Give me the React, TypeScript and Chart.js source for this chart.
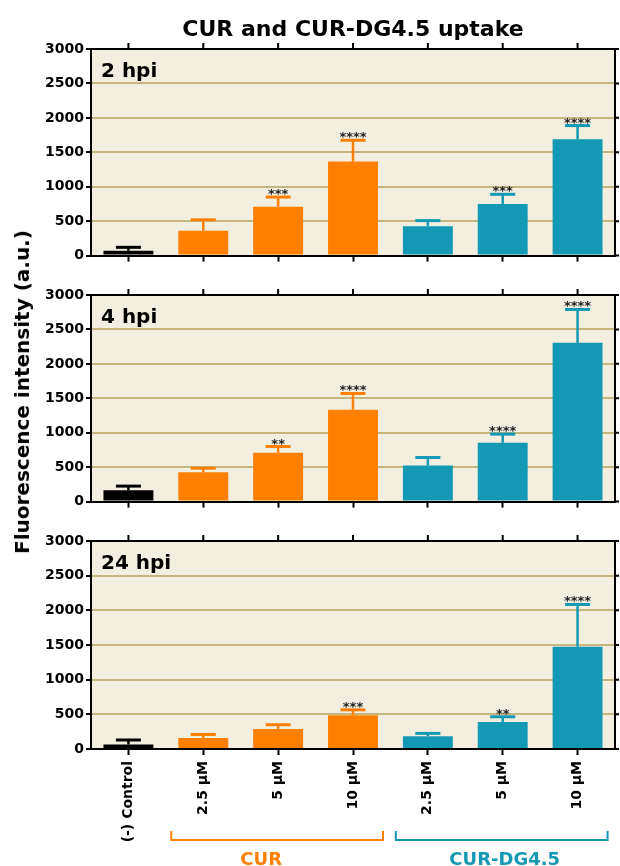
import React, { useEffect, useRef } from 'react';
import { Chart, registerables } from 'chart.js';
Chart.register(...registerables);

// ---------- data ----------
const categories = ['(-) Control', '2.5 µM', '5 µM', '10 µM', '2.5 µM', '5 µM', '10 µM'];
const barColors = ['#000000', '#ff8000', '#ff8000', '#ff8000', '#1399b4', '#1399b4', '#1399b4'];

const mean2h = [70, 360, 710, 1365, 428, 750, 1688];
const sd2h = [50, 160, 140, 310, 80, 140, 200];
const stars2h = ['', '', '***', '****', '', '***', '****'];

const mean4h = [165, 425, 710, 1335, 525, 855, 2305];
const sd4h = [60, 60, 90, 235, 115, 125, 485];
const stars4h = ['', '', '**', '****', '', '****', '****'];

const mean24h = [65, 160, 290, 485, 185, 390, 1475];
const sd24h = [65, 50, 60, 80, 40, 75, 610];
const stars24h = ['', '', '', '***', '', '**', '****'];

const yMin = 0;
const yMax = 3000;
const yStep = 500;

const panelLabels = ['2 hpi', '4 hpi', '24 hpi'];
const chartTitle = 'CUR and CUR-DG4.5 uptake';
const yTitle = 'Fluorescence intensity (a.u.)';
const groupNames = ['CUR', 'CUR-DG4.5'];
const groupColors = ['#ff8000', '#1399b4'];
const groupRanges = [[1, 3], [4, 6]];

// ---------- style ----------
const FONT = '"DejaVu Sans", sans-serif';
const BG = '#f3efe0';
const GRID = '#c4b67e';

const decor = {
  id: 'decor',
  beforeDraw(chart: any) {
    const { ctx, chartArea } = chart;
    ctx.save();
    ctx.fillStyle = BG;
    ctx.fillRect(chartArea.left, chartArea.top, chartArea.right - chartArea.left, chartArea.bottom - chartArea.top);
    ctx.restore();
  },
  afterDatasetsDraw(chart: any, _args: any, opts: any) {
    const ctx = chart.ctx;
    const { left, right, top, bottom } = chart.chartArea;
    const ys = chart.scales.y;
    const xs = chart.scales.x;
    const meta = chart.getDatasetMeta(0);
    ctx.save();
    meta.data.forEach((bar: any, i: number) => {
      const yc = ys.getPixelForValue(opts.mean[i] + opts.sd[i]);
      ctx.strokeStyle = barColors[i];
      ctx.lineWidth = 2.5;
      ctx.beginPath();
      ctx.moveTo(bar.x, bar.y);
      ctx.lineTo(bar.x, yc);
      ctx.stroke();
      ctx.lineWidth = 3;
      ctx.beginPath();
      ctx.moveTo(bar.x - 12.5, yc);
      ctx.lineTo(bar.x + 12.5, yc);
      ctx.stroke();
      if (opts.stars[i]) {
        ctx.fillStyle = '#222';
        ctx.font = `bold 13px ${FONT}`;
        ctx.textAlign = 'center';
        ctx.textBaseline = 'alphabetic';
        ctx.fillText(opts.stars[i], bar.x, yc + 1);
      }
    });
    // frame top & right
    ctx.strokeStyle = '#000';
    ctx.lineWidth = 2;
    ctx.beginPath();
    ctx.moveTo(left - 1, top);
    ctx.lineTo(right, top);
    ctx.lineTo(right, bottom + 1);
    ctx.stroke();
    // top ticks
    ctx.beginPath();
    categories.forEach((_c, i) => {
      const x = xs.getPixelForValue(i);
      ctx.moveTo(x, top);
      ctx.lineTo(x, top - 6);
    });
    // right ticks
    for (let v = yMin; v <= yMax; v += yStep) {
      const y = ys.getPixelForValue(v);
      ctx.moveTo(right, y);
      ctx.lineTo(right + 4, y);
    }
    ctx.stroke();
    // panel label
    ctx.fillStyle = '#000';
    ctx.font = `bold 20px ${FONT}`;
    ctx.textAlign = 'left';
    ctx.textBaseline = 'alphabetic';
    ctx.fillText(opts.label, left + 10, top + 28);
    // title
    if (opts.title) {
      ctx.font = `bold 22px ${FONT}`;
      ctx.textAlign = 'center';
      ctx.fillText(opts.title, (left + right) / 2, 36);
    }
    // group brackets
    if (opts.groups) {
      const by = bottom + 91;
      groupRanges.forEach((r, g) => {
        const x0 = xs.getPixelForValue(r[0]) - 32;
        const x1 = xs.getPixelForValue(r[1]) + 30;
        ctx.strokeStyle = groupColors[g];
        ctx.lineWidth = 2;
        ctx.beginPath();
        ctx.moveTo(x0, by - 9);
        ctx.lineTo(x0, by);
        ctx.lineTo(x1, by);
        ctx.lineTo(x1, by - 9);
        ctx.stroke();
        ctx.fillStyle = groupColors[g];
        ctx.font = `bold 18px ${FONT}`;
        ctx.textAlign = 'center';
        const cx = g === 0 ? (x0 + x1) / 2 - 16 : (x0 + x1) / 2 + 3;
        ctx.fillText(groupNames[g], cx, bottom + 116);
      });
    }
    ctx.restore();
  },
};

type PanelProps = {
  mean: number[];
  sd: number[];
  stars: string[];
  label: string;
  top: number;
  height: number;
  padTop: number;
  xHeight: number;
  showX: boolean;
  title?: string;
  groups?: boolean;
};

function Panel(p: PanelProps) {
  const ref = useRef<HTMLCanvasElement>(null);
  useEffect(() => {
    const chart = new Chart(ref.current as HTMLCanvasElement, {
      type: 'bar',
      data: {
        labels: categories,
        datasets: [
          {
            data: p.mean,
            backgroundColor: barColors,
            borderWidth: 0,
            barPercentage: 0.667,
            categoryPercentage: 1,
          },
        ],
      },
      options: {
        responsive: false,
        animation: false,
        devicePixelRatio: 1,
        layout: { padding: { top: p.padTop, left: 0, right: 5, bottom: 0 } },
        plugins: {
          legend: { display: false },
          tooltip: { enabled: false },
          decor: { mean: p.mean, sd: p.sd, stars: p.stars, label: p.label, title: p.title, groups: p.groups },
        } as any,
        scales: {
          x: {
            offset: true,
            grid: {
              display: true,
              offset: false,
              drawOnChartArea: false,
              drawTicks: true,
              tickLength: 6,
              tickColor: '#000',
              tickWidth: 2,
            },
            border: { display: true, color: '#000', width: 2 },
            ticks: {
              display: p.showX,
              autoSkip: false,
              maxRotation: 90,
              minRotation: 90,
              padding: 6,
              color: '#000',
              font: { family: FONT, weight: 'bold', size: 14 },
            },
            afterFit: (s: any) => {
              s.height = p.xHeight;
            },
          },
          y: {
            min: yMin,
            max: yMax,
            ticks: {
              stepSize: yStep,
              color: '#000',
              padding: 2,
              font: { family: FONT, weight: 'bold', size: 14 },
              callback: (v: any) => String(v),
            },
            grid: {
              color: (c: any) =>
                c.tick && (c.tick.value === yMin || c.tick.value === yMax) ? 'rgba(0,0,0,0)' : GRID,
              lineWidth: 2,
              tickLength: 5,
              tickColor: '#000',
              tickWidth: 2,
            },
            border: { display: true, color: '#000', width: 2 },
            afterFit: (s: any) => {
              s.width = 91;
            },
          },
        },
      } as any,
      plugins: [decor],
    });
    return () => chart.destroy();
  }, []);
  return (
    <canvas
      ref={ref}
      width={620}
      height={p.height}
      style={{ position: 'absolute', left: 0, top: p.top, width: 620, height: p.height }}
    />
  );
}

export default function App() {
  return (
    <div style={{ position: 'absolute', left: 0, top: 0, width: 620, height: 866, background: '#fff', overflow: 'hidden' }}>
      <Panel mean={mean2h} sd={sd2h} stars={stars2h} label={panelLabels[0]} top={0} height={266} padTop={49} xHeight={9} showX={false} title={chartTitle} />
      <Panel mean={mean4h} sd={sd4h} stars={stars4h} label={panelLabels[1]} top={266} height={246} padTop={29} xHeight={9} showX={false} />
      <Panel mean={mean24h} sd={sd24h} stars={stars24h} label={panelLabels[2]} top={512} height={354} padTop={29} xHeight={117} showX={true} groups={true} />
      <div
        style={{
          position: 'absolute',
          left: 22,
          top: 392,
          transform: 'translate(-50%, -50%) rotate(-90deg)',
          font: `bold 20px ${FONT}`,
          whiteSpace: 'nowrap',
          color: '#000',
        }}
      >
        {yTitle}
      </div>
    </div>
  );
}
